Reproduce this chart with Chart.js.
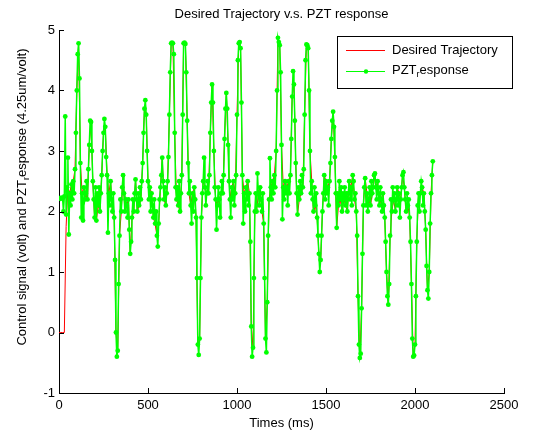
<!DOCTYPE html>
<html>
<head>
<meta charset="utf-8">
<script src="https://cdn.jsdelivr.net/npm/chart.js@4"></script>
<style>
  html, body { margin: 0; padding: 0; background: #fff; }
  #wrap { width: 544px; height: 432px; }
</style>
</head>
<body>
<div id="wrap"><canvas id="grafica" width="544" height="432"></canvas></div>
<script>
// sample spacing of the two recorded signals (ms)
const pztStepMs = 5;
const desiredStepMs = 10;

// PZT response, one value every 5 ms from 0 to 2100 ms
const pztResponse = [
  2.22, 2.22, 2.21, 2.23, 2.22, 2.0, 2.25, 3.57, 1.95, 2.4, 2.89, 1.62, 2.3, 2.1, 2.45, 2.2, 2.5, 2.3, 2.7, 3.3,
  4.0, 4.6, 4.78, 4.2, 2.8, 1.9, 2.3, 1.85, 2.4, 2.2, 2.3, 2.5, 2.2, 2.7, 3.1, 3.5, 3.48, 3.0, 2.5, 2.2,
  1.9, 2.4, 1.85, 2.3, 2.1, 2.4, 2.0, 2.3, 2.6, 3.0, 3.3, 3.53, 3.4, 2.9, 2.6, 1.65, 2.3, 2.1, 2.5, 2.2,
  2.0, 2.3, 1.9, 1.2, 0.0, -0.4, -0.3, 0.8, 1.6, 2.2, 2.0, 2.4, 2.6, 2.3, 2.0, 2.2, 2.1, 1.9, 2.2, 1.7,
  1.3, 1.5, 1.9, 2.2, 2.0, 2.3, 2.53, 2.2, 2.0, 2.3, 2.1, 2.4, 2.2, 2.5, 2.8, 3.3, 3.7, 3.84, 3.6, 3.0,
  2.5, 2.2, 2.4, 2.0, 2.3, 2.1, 1.9, 2.2, 1.8, 2.0, 1.6, 1.42, 1.8, 2.2, 2.4, 2.6, 2.89, 2.5, 2.2, 2.4,
  2.1, 2.3, 2.5, 2.9, 3.6, 4.3, 4.78, 4.79, 4.78, 4.6, 3.3, 2.4, 2.2, 2.4, 2.1, 2.5, 2.0, 2.3, 2.6, 3.6,
  4.78, 4.79, 4.77, 4.3, 3.5, 2.8, 2.3, 2.5, 2.1, 1.8, 2.3, 2.0, 2.4, 2.2, 1.9, 0.9, -0.2, -0.37, -0.1, 0.9,
  1.9, 2.3, 2.5, 2.89, 2.4, 2.1, 2.3, 2.5, 2.3, 2.6, 3.3, 3.8, 4.1, 3.8, 3.0, 2.4, 2.2, 1.7, 2.1, 2.4,
  2.2, 1.9, 2.3, 2.5, 2.3, 2.6, 3.2, 3.7, 3.96, 3.7, 3.1, 2.5, 2.2, 1.9, 2.4, 2.2, 2.5, 2.1, 2.3, 2.6,
  3.6, 4.5, 4.78, 4.8, 4.7, 3.8, 2.6, 1.8, 2.3, 2.0, 2.4, 2.2, 2.5, 2.1, 2.3, 1.5, 0.1, -0.4, -0.25, 0.9,
  2.0, 2.3, 2.0, 2.63, 2.3, 2.1, 2.4, 2.2, 2.0, 2.3, 1.8, 0.9, -0.1, -0.33, 0.5, 1.6, 2.2, 2.88, 2.4, 2.2,
  2.5, 2.3, 2.6, 2.4, 3.0, 4.0, 4.87, 4.8, 4.75, 4.3, 3.1, 1.87, 2.4, 2.2, 2.5, 2.3, 2.4, 2.1, 2.5, 2.3,
  2.6, 3.2, 3.9, 4.32, 4.1, 3.5, 2.8, 2.3, 1.95, 2.4, 2.2, 2.5, 2.3, 2.6, 2.4, 2.7, 3.6, 4.5, 4.76, 4.75,
  4.7, 4.0, 3.0, 2.3, 2.5, 2.2, 2.0, 2.4, 2.1, 2.3, 1.9, 1.6, 1.3, 1.0, 1.2, 1.6, 2.0, 2.3, 2.6, 2.2,
  2.5, 2.3, 2.4, 2.1, 2.5, 2.8, 3.2, 3.5, 3.65, 3.4, 2.9, 2.3, 1.73, 2.3, 2.1, 2.5, 2.2, 2.4, 2.0, 2.3,
  2.2, 2.4, 2.1, 2.3, 2.0, 2.3, 2.5, 2.2, 2.4, 2.1, 2.6, 2.5, 2.2, 2.3, 2.0, 1.6, 0.6, -0.2, -0.42, -0.35,
  0.4, 1.3, 2.1, 2.4, 2.55, 2.1, 2.3, 2.0, 2.2, 2.4, 2.1, 2.5, 2.3, 2.4, 2.6, 2.63, 2.4, 2.2, 2.5, 2.3,
  2.1, 2.4, 2.2, 2.0, 2.3, 2.1, 1.9, 1.5, 1.0, 0.6, 0.46, 0.8, 1.6, 2.2, 2.0, 2.4, 2.2, 2.3, 2.0, 2.2,
  2.4, 2.1, 2.3, 1.9, 2.2, 2.4, 2.6, 2.65, 2.4, 2.2, 2.0, 2.3, 2.1, 2.2, 1.9, 1.5, 0.8, -0.1, -0.4, -0.38,
  -0.2, 0.6, 1.5, 2.1, 2.3, 2.0, 2.3, 2.5, 2.4, 2.1, 2.3, 2.0, 1.7, 1.1, 0.7, 0.56, 1.0, 1.8, 2.3, 2.6,
  2.83
];

// Desired trajectory, one value every 10 ms from 0 to 2100 ms
const desiredTrajectory = [
  0, 0, 0, 0, 1.75, 2.4, 2.3, 2.45, 2.5, 2.7,
  4.0, 4.78, 2.8, 2.3, 2.4, 2.3, 2.2, 3.1, 3.48, 2.5,
  1.9, 1.85, 2.1, 2.0, 2.6, 3.3, 3.4, 2.6, 2.3, 2.5,
  2.0, 1.9, 0.0, -0.3, 1.6, 2.0, 2.6, 2.0, 2.1, 2.2,
  1.3, 1.9, 2.0, 2.53, 2.0, 2.1, 2.2, 2.8, 3.7, 3.6,
  2.5, 2.4, 2.3, 1.9, 1.8, 1.6, 1.8, 2.4, 2.89, 2.2,
  2.1, 2.5, 3.6, 4.78, 4.78, 3.3, 2.2, 2.1, 2.0, 2.6,
  4.78, 4.77, 3.5, 2.3, 2.1, 2.3, 2.4, 1.9, -0.2, -0.1,
  1.9, 2.5, 2.4, 2.3, 2.3, 3.3, 4.1, 3.0, 2.2, 2.1,
  2.2, 2.3, 2.3, 3.2, 3.96, 3.1, 2.2, 2.4, 2.5, 2.3,
  3.6, 4.78, 4.7, 2.6, 2.3, 2.4, 2.5, 2.3, 0.1, -0.25,
  2.0, 2.0, 2.3, 2.4, 2.0, 1.8, -0.1, 0.5, 2.2, 2.4,
  2.5, 2.6, 3.0, 4.87, 4.75, 3.1, 2.4, 2.5, 2.4, 2.5,
  2.6, 3.9, 4.1, 2.8, 1.95, 2.2, 2.3, 2.4, 3.6, 4.76,
  4.7, 3.0, 2.5, 2.0, 2.1, 1.9, 1.3, 1.2, 2.0, 2.6,
  2.5, 2.4, 2.5, 3.2, 3.65, 2.9, 1.73, 2.1, 2.2, 2.0,
  2.2, 2.1, 2.0, 2.5, 2.4, 2.6, 2.2, 2.0, 0.6, -0.42,
  0.4, 2.1, 2.55, 2.3, 2.2, 2.1, 2.3, 2.6, 2.4, 2.5,
  2.1, 2.2, 2.3, 1.9, 1.0, 0.46, 1.6, 2.0, 2.2, 2.0,
  2.4, 2.3, 2.2, 2.6, 2.4, 2.0, 2.1, 1.9, 0.8, -0.4,
  -0.2, 1.5, 2.3, 2.3, 2.4, 2.3, 1.7, 0.7, 1.0, 2.3,
  2.83
];

const xTicks = [0, 500, 1000, 1500, 2000, 2500];
const yTicks = [-1, 0, 1, 2, 3, 4, 5];

const titleText = 'Desired Trajectory v.s. PZT response';
const xTitle = 'Times (ms)';
const yTitleParts = ['Control signal (volt) and PZT', 'r', 'esponse (4.25um/volt)'];
const legendDesired = 'Desired Trajectory';
const legendPzt = ['PZT', 'r', 'esponse'];

const FONT = '"Liberation Sans", Arial, sans-serif';

function toPoints(values, step) {
  return values.map((v, i) => ({ x: i * step, y: v }));
}

// texto con subindice: [normal, sub, normal]
function drawSubText(ctx, x, y, parts, size) {
  ctx.font = size + 'px ' + FONT;
  ctx.fillText(parts[0], x, y);
  let w = ctx.measureText(parts[0]).width;
  ctx.font = Math.round(size * 0.72) + 'px ' + FONT;
  ctx.fillText(parts[1], x + w, y + 5);
  w += ctx.measureText(parts[1]).width;
  ctx.font = size + 'px ' + FONT;
  ctx.fillText(parts[2], x + w, y);
}

function subTextWidth(ctx, parts, size) {
  ctx.font = size + 'px ' + FONT;
  let w = ctx.measureText(parts[0]).width + ctx.measureText(parts[2]).width;
  ctx.font = Math.round(size * 0.72) + 'px ' + FONT;
  return w + ctx.measureText(parts[1]).width;
}

const decorations = {
  id: 'decorations',
  afterDraw(chart) {
    const ctx = chart.ctx;
    const a = chart.chartArea;
    const x = chart.scales.x;
    const y = chart.scales.y;
    ctx.save();

    // ticks hacia adentro
    ctx.strokeStyle = '#000';
    ctx.lineWidth = 1;
    ctx.beginPath();
    xTicks.forEach(v => {
      const px = Math.round(x.getPixelForValue(v)) + 0.5;
      ctx.moveTo(px, a.bottom);
      ctx.lineTo(px, a.bottom - 5);
    });
    yTicks.forEach(v => {
      const py = Math.round(y.getPixelForValue(v)) + 0.5;
      ctx.moveTo(a.left, py);
      ctx.lineTo(a.left + 5, py);
    });
    ctx.stroke();

    ctx.fillStyle = '#000';
    ctx.textBaseline = 'middle';
    const cx = (a.left + a.right) / 2;

    // titulo
    ctx.font = '13px ' + FONT;
    ctx.textAlign = 'center';
    ctx.fillText(titleText, cx, 14);
    ctx.fillText(xTitle, cx, 423);

    // titulo eje y
    ctx.textAlign = 'left';
    const yw = subTextWidth(ctx, yTitleParts, 13);
    ctx.save();
    ctx.translate(22, 197);
    ctx.rotate(-Math.PI / 2);
    drawSubText(ctx, -yw / 2, 0, yTitleParts, 13);
    ctx.restore();

    // leyenda
    ctx.fillStyle = '#fff';
    ctx.fillRect(337.5, 36.5, 175, 52);
    ctx.strokeStyle = '#000';
    ctx.strokeRect(337.5, 36.5, 175, 52);
    ctx.strokeStyle = '#ff0000';
    ctx.beginPath();
    ctx.moveTo(346, 50.5);
    ctx.lineTo(385, 50.5);
    ctx.stroke();
    ctx.strokeStyle = '#00ff00';
    ctx.beginPath();
    ctx.moveTo(346, 71.5);
    ctx.lineTo(385, 71.5);
    ctx.stroke();
    ctx.fillStyle = '#00ff00';
    ctx.beginPath();
    ctx.arc(366, 71.5, 2.2, 0, Math.PI * 2);
    ctx.fill();
    ctx.fillStyle = '#000';
    ctx.font = '13px ' + FONT;
    ctx.fillText(legendDesired, 392, 50);
    drawSubText(ctx, 392, 70, legendPzt, 13);

    ctx.restore();
  }
};

const ctx = document.getElementById('grafica').getContext('2d');

const chart = new Chart(ctx, {
  type: 'line',
  data: {
    datasets: [{
      label: 'PZT response',
      data: toPoints(pztResponse, pztStepMs),
      borderColor: '#00ff00',
      backgroundColor: '#00ff00',
      borderWidth: 1.5,
      pointRadius: 2.4,
      pointBorderWidth: 0,
      pointBackgroundColor: '#00ff00',
      tension: 0,
      order: 1
    }, {
      label: 'Desired Trajectory',
      data: toPoints(desiredTrajectory, desiredStepMs),
      borderColor: '#ff0000',
      borderWidth: 1,
      pointRadius: 0,
      tension: 0,
      order: 2
    }]
  },
  options: {
    responsive: false,
    animation: false,
    events: [],
    layout: { padding: { left: 0, right: 40, top: 30, bottom: 0 } },
    plugins: {
      legend: { display: false },
      title: { display: false },
      tooltip: { enabled: false }
    },
    scales: {
      x: {
        type: 'linear',
        min: 0,
        max: 2500,
        afterFit: s => { s.height = 39; },
        afterBuildTicks: s => { s.ticks = xTicks.map(v => ({ value: v })); },
        ticks: {
          color: '#000', font: { family: FONT, size: 13 }, padding: 5, maxRotation: 0,
          callback: value => String(value)
        },
        grid: { display: true, drawOnChartArea: false, drawTicks: false },
        border: { display: true, color: '#000', width: 1 }
      },
      y: {
        type: 'linear',
        min: -1,
        max: 5,
        afterFit: s => { s.width = 59; },
        afterBuildTicks: s => { s.ticks = yTicks.map(v => ({ value: v })); },
        ticks: {
          color: '#000', font: { family: FONT, size: 13 }, padding: 4,
          callback: value => String(value)
        },
        grid: { display: true, drawOnChartArea: false, drawTicks: false },
        border: { display: true, color: '#000', width: 1 }
      }
    }
  },
  plugins: [decorations]
});
</script>
</body>
</html>
